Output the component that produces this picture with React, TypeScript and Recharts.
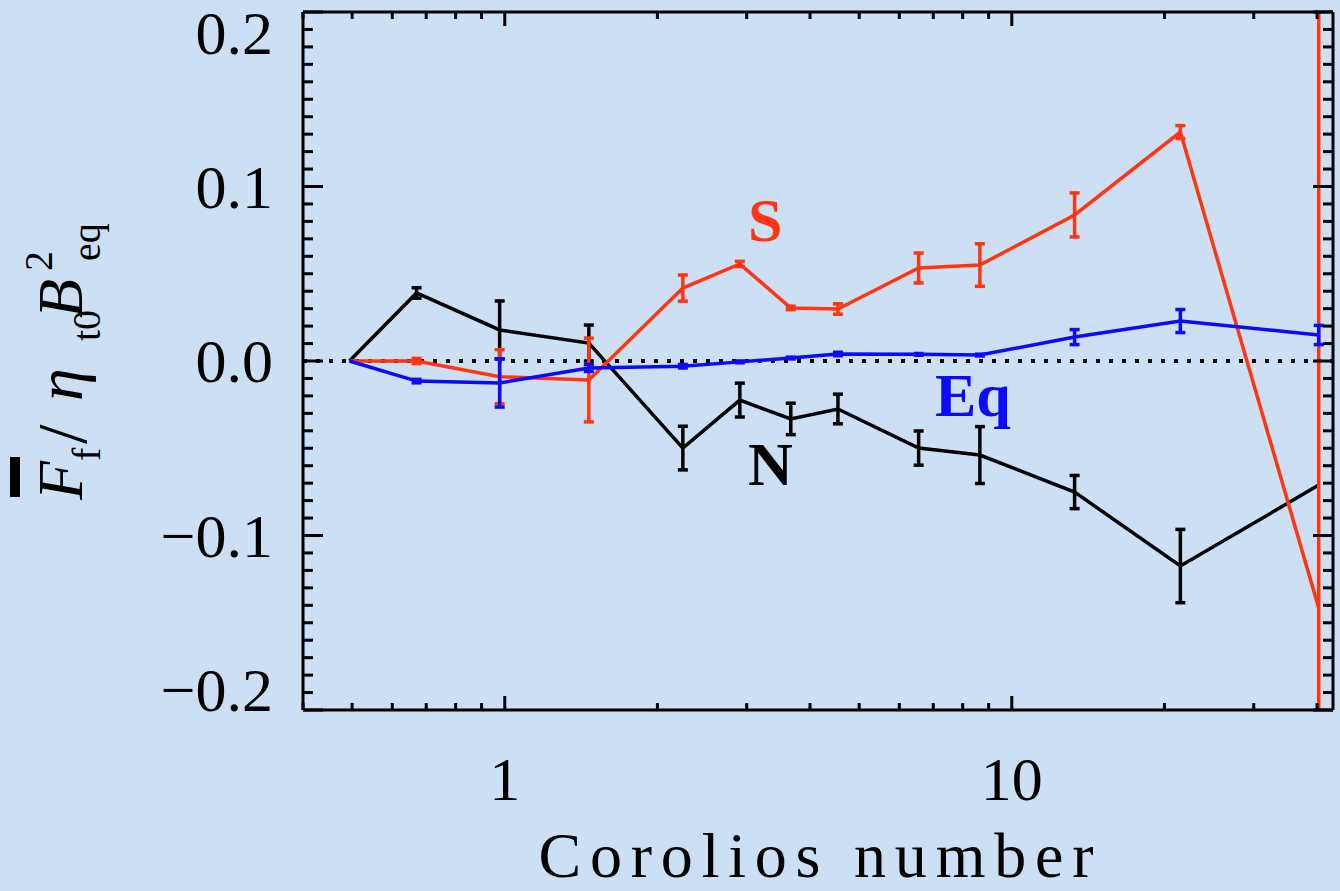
import { LineChart, Line, XAxis, YAxis, ErrorBar, ReferenceLine, Customized } from 'recharts';

// Coriolis numbers of the runs
const coriolis = [0.494, 0.67, 0.977, 1.465, 2.245, 2.908, 3.665, 4.54, 6.55, 8.65, 13.3, 21.5, 40.3];

// normalised flux, northern hemisphere
const fluxN = [0, 0.039, 0.0178, 0.0103, -0.0499, -0.0224, -0.0332, -0.0275, -0.0499, -0.0539, -0.0751, -0.1175, -0.0711];
const fluxNErr = [0, 0.003, 0.0166, 0.0103, 0.0125, 0.0097, 0.009, 0.0085, 0.0098, 0.0163, 0.0095, 0.021, 0];

// southern hemisphere
const fluxS = [0, 0, -0.009, -0.0109, 0.0418, 0.0556, 0.0304, 0.0298, 0.0533, 0.055, 0.0837, 0.1312, -0.1415];
const fluxSErr = [0, 0.0015, 0.0155, 0.024, 0.0075, 0.0015, 0.001, 0.003, 0.0086, 0.0122, 0.0126, 0.0037, 0.5];

// equator
const fluxEq = [0, -0.0115, -0.0126, -0.004, -0.003, -0.0005, 0.0017, 0.004, 0.0038, 0.0034, 0.0137, 0.0229, 0.0149];
const fluxEqErr = [0, 0.001, 0.0138, 0.002, 0.001, 0.0005, 0.0005, 0.001, 0.0005, 0.0005, 0.0043, 0.0066, 0.0055];

const xTicks = [0.4, 0.5, 0.6, 0.7, 0.8, 0.9, 1, 2, 3, 4, 5, 6, 7, 8, 9, 10, 20, 30, 40];
const xMajor = [1, 10];
const yTicks = Array.from({ length: 41 }, (_, i) => (i - 20) / 100);

const rows = coriolis.map((ro, i) => ({
  ro,
  n: fluxN[i],
  nErr: fluxNErr[i],
  s: fluxS[i],
  sErr: fluxSErr[i],
  eq: fluxEq[i],
  eqErr: fluxEqErr[i],
}));

const BG = '#cddff3';
const RED = '#ff3511';
const BLUE = '#0a0aff';
const SERIF = '"Liberation Serif", "DejaVu Serif", serif';

// plot box
const PLOT = { left: 303, top: 12, right: 1333, bottom: 710 };

function XTick(props: any) {
  const { x, y, payload, side } = props;
  const v = payload.value;
  const major = xMajor.includes(v);
  const len = major ? 14 : 7;
  const dir = side === 'bottom' ? -1 : 1;
  return (
    <g>
      <line x1={x} x2={x} y1={y} y2={y + dir * len} stroke="#000" strokeWidth={3} />
      {side === 'bottom' && major && (
        <text x={x} y={y + 90} textAnchor="middle" fontFamily={SERIF} fontSize={62} fill="#000">
          {String(v)}
        </text>
      )}
    </g>
  );
}

function fmtY(v: number) {
  if (Math.abs(v) < 1e-9) return '0.0';
  const s = Math.abs(v).toFixed(1);
  return v < 0 ? '\u2212' + s : s;
}

function YTick(props: any) {
  const { x, y, payload, side } = props;
  const v = payload.value;
  const major = Math.round(v * 100) % 10 === 0;
  const len = major ? 20 : 10;
  const dir = side === 'left' ? 1 : -1;
  let base = y + 21;
  if (v > 0.19) base = y + 42;
  if (v < -0.19) base = y + 1;
  return (
    <g>
      <line x1={x} x2={x + dir * len} y1={y} y2={y} stroke="#000" strokeWidth={3} />
      {side === 'left' && major && (
        <text x={x - 30} y={base} textAnchor="end" fontFamily={SERIF} fontSize={62} fill="#000">
          {fmtY(v)}
        </text>
      )}
    </g>
  );
}

// a rotated piece of the y-axis title, bx = baseline x, sy = start y
function Piece({ bx, sy, size, italic, children }: any) {
  return (
    <text
      transform={`translate(${bx},${sy}) rotate(-90)`}
      fontFamily={SERIF}
      fontSize={size}
      fontStyle={italic ? 'italic' : 'normal'}
      fill="#000"
    >
      {children}
    </text>
  );
}

function Annotations() {
  return (
    <g>
      <defs>
        <clipPath id="plot-box">
          <rect x={PLOT.left} y={PLOT.top} width={PLOT.right - PLOT.left} height={PLOT.bottom - PLOT.top} />
        </clipPath>
      </defs>
      <rect x={10} y={457} width={10} height={40} fill="#000" />
      <Piece bx={82} sy={500} size={64} italic>F</Piece>
      <Piece bx={100} sy={461} size={40}>f</Piece>
      <Piece bx={86} sy={444} size={70}>/</Piece>
      <Piece bx={82} sy={401} size={66} italic>η</Piece>
      <Piece bx={100} sy={341} size={40}>t0</Piece>
      <Piece bx={82} sy={318} size={64} italic>B</Piece>
      <Piece bx={52} sy={271} size={40}>2</Piece>
      <Piece bx={100} sy={261} size={40}>eq</Piece>

      <text x={816} y={877} textAnchor="middle" fontFamily={SERIF} fontSize={64} textLength={555} lengthAdjust="spacing" fill="#000">
        Corolios number
      </text>

      <text x={748} y={241} fontFamily={SERIF} fontWeight="bold" fontSize={62} fill={RED}>S</text>
      <text x={748} y={485} fontFamily={SERIF} fontWeight="bold" fontSize={62} fill="#000">N</text>
      <text x={935} y={416} fontFamily={SERIF} fontWeight="bold" fontSize={62} fill={BLUE}>Eq</text>
    </g>
  );
}

export default function App() {
  return (
    <div style={{ background: BG, width: 1340, height: 891 }}>
      <style>{`body{margin:0;background:${BG}} .recharts-errorBars{clip-path:url(#plot-box)}`}</style>
      <LineChart width={1340} height={891} data={rows} margin={{ top: 11, right: 6, bottom: 0, left: 0 }}>
        <XAxis
          xAxisId="b"
          dataKey="ro"
          type="number"
          scale="log"
          domain={[0.4, 43]}
          allowDataOverflow
          ticks={xTicks}
          interval={0}
          height={181}
          tickSize={0}
          tickMargin={0}
          tickLine={false}
          axisLine={{ stroke: '#000', strokeWidth: 3 }}
          tick={<XTick side="bottom" />}
        />
        <XAxis
          xAxisId="t"
          orientation="top"
          dataKey="ro"
          type="number"
          scale="log"
          domain={[0.4, 43]}
          allowDataOverflow
          ticks={xTicks}
          interval={0}
          height={1}
          tickSize={0}
          tickMargin={0}
          tickLine={false}
          axisLine={{ stroke: '#000', strokeWidth: 3 }}
          tick={<XTick side="top" />}
        />
        <YAxis
          yAxisId="l"
          type="number"
          domain={[-0.2, 0.2]}
          allowDataOverflow
          ticks={yTicks}
          interval={0}
          width={303}
          tickSize={0}
          tickMargin={0}
          tickLine={false}
          axisLine={{ stroke: '#000', strokeWidth: 3 }}
          tick={<YTick side="left" />}
        />
        <YAxis
          yAxisId="r"
          orientation="right"
          type="number"
          domain={[-0.2, 0.2]}
          allowDataOverflow
          ticks={yTicks}
          interval={0}
          width={1}
          tickSize={0}
          tickMargin={0}
          tickLine={false}
          axisLine={{ stroke: '#000', strokeWidth: 3 }}
          tick={<YTick side="right" />}
        />
        <ReferenceLine xAxisId="b" yAxisId="l" y={0} stroke="#000" strokeWidth={4} strokeDasharray="4 9" />
        <Line xAxisId="b" yAxisId="l" dataKey="n" type="linear" stroke="#000" strokeWidth={3.5} dot={false} isAnimationActive={false}>
          <ErrorBar dataKey="nErr" direction="y" width={5} stroke="#000" strokeWidth={3.5} />
        </Line>
        <Line xAxisId="b" yAxisId="l" dataKey="s" type="linear" stroke={RED} strokeWidth={3.5} dot={false} isAnimationActive={false}>
          <ErrorBar dataKey="sErr" direction="y" width={5} stroke={RED} strokeWidth={3.5} />
        </Line>
        <Line xAxisId="b" yAxisId="l" dataKey="eq" type="linear" stroke={BLUE} strokeWidth={3.5} dot={false} isAnimationActive={false}>
          <ErrorBar dataKey="eqErr" direction="y" width={5} stroke={BLUE} strokeWidth={3.5} />
        </Line>
        <Customized component={<Annotations />} />
      </LineChart>
    </div>
  );
}
